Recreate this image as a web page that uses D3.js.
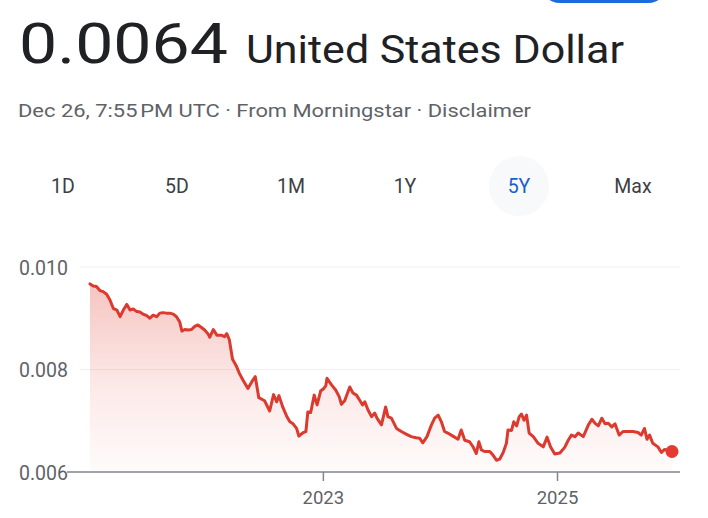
<!DOCTYPE html>
<html>
<head>
<meta charset="utf-8">
<script src="https://cdn.jsdelivr.net/npm/d3@7"></script>
<style>
  html, body { margin: 0; padding: 0; background: #fff; }
  svg { display: block; font-family: Roboto, "Noto Sans", Arial, sans-serif; }
</style>
</head>
<body>
<svg id="chart" width="708" height="518"></svg>
<script>
// ---- Data ----
const dates = [
  "2021-01-04","2021-01-14","2021-01-24","2021-02-04","2021-02-14","2021-02-25","2021-03-07","2021-03-18","2021-03-29","2021-04-08",
  "2021-04-18","2021-04-29","2021-05-09","2021-05-19","2021-05-30","2021-06-09","2021-06-19","2021-06-30","2021-07-10","2021-07-20",
  "2021-07-31","2021-08-10","2021-08-20","2021-08-31","2021-09-10","2021-09-21","2021-10-01","2021-10-11","2021-10-18","2021-10-27",
  "2021-11-06","2021-11-17","2021-11-27","2021-12-07","2021-12-18","2021-12-28","2022-01-08","2022-01-13","2022-01-24","2022-02-04",
  "2022-02-18","2022-02-28","2022-03-07","2022-03-15","2022-03-25","2022-04-05","2022-04-15","2022-04-26","2022-05-12","2022-05-27",
  "2022-06-04","2022-06-15","2022-07-03","2022-07-19","2022-07-31","2022-08-10","2022-08-17","2022-08-28","2022-09-10","2022-09-20",
  "2022-09-30","2022-10-11","2022-10-18","2022-11-01","2022-11-09","2022-11-15","2022-11-24","2022-12-05","2022-12-14","2022-12-25",
  "2023-01-04","2023-01-10","2023-01-14","2023-01-28","2023-02-10","2023-02-21","2023-02-28","2023-03-10","2023-03-26","2023-04-05",
  "2023-04-16","2023-04-26","2023-05-05","2023-05-12","2023-05-22","2023-06-02","2023-06-12","2023-06-19","2023-07-03","2023-07-16",
  "2023-07-23","2023-08-03","2023-08-19","2023-09-03","2023-09-18","2023-10-04","2023-10-19","2023-10-30","2023-11-09","2023-11-22",
  "2023-12-06","2023-12-16","2023-12-27","2024-01-06","2024-01-16","2024-01-26","2024-02-11","2024-02-27","2024-03-08","2024-03-19",
  "2024-04-03","2024-04-14","2024-04-24","2024-05-02","2024-05-10","2024-05-20","2024-06-05","2024-06-15","2024-06-26","2024-07-06",
  "2024-07-17","2024-07-27","2024-08-01","2024-08-12","2024-08-19","2024-08-28","2024-09-05","2024-09-12","2024-09-20","2024-09-28",
  "2024-10-06","2024-10-19","2024-11-03","2024-11-19","2024-12-01","2024-12-12","2024-12-25","2025-01-10","2025-01-25","2025-02-05",
  "2025-02-15","2025-02-26","2025-03-08","2025-03-24","2025-04-09","2025-04-20","2025-04-30","2025-05-10","2025-05-21","2025-05-31",
  "2025-06-10","2025-06-21","2025-07-01","2025-07-14","2025-07-26","2025-08-11","2025-08-26","2025-09-11","2025-09-21","2025-10-01",
  "2025-10-09","2025-10-17","2025-10-27","2025-11-12","2025-11-23","2025-12-03","2025-12-26"
];
const values = [
  0.00967,0.00963,0.00962,0.00954,0.00952,0.00947,0.00936,0.00919,0.00916,0.00903,
  0.00916,0.00927,0.00916,0.00918,0.00913,0.00912,0.00908,0.00905,0.00900,0.00906,
  0.00903,0.00910,0.00911,0.00910,0.00910,0.00908,0.00903,0.00893,0.00875,0.00878,
  0.00877,0.00878,0.00884,0.00887,0.00882,0.00877,0.00869,0.00863,0.00878,0.00867,
  0.00867,0.00864,0.00870,0.00858,0.00820,0.00808,0.00793,0.00780,0.00763,0.00779,
  0.00786,0.00745,0.00739,0.00719,0.00751,0.00737,0.00749,0.00728,0.00709,0.00698,
  0.00694,0.00685,0.00670,0.00677,0.00679,0.00717,0.00716,0.00750,0.00731,0.00758,
  0.00763,0.00768,0.00783,0.00770,0.00760,0.00747,0.00732,0.00739,0.00766,0.00754,
  0.00750,0.00740,0.00731,0.00737,0.00721,0.00708,0.00715,0.00705,0.00692,0.00727,
  0.00708,0.00705,0.00685,0.00679,0.00674,0.00669,0.00667,0.00666,0.00657,0.00669,
  0.00692,0.00705,0.00711,0.00698,0.00679,0.00676,0.00670,0.00664,0.00682,0.00662,
  0.00659,0.00649,0.00636,0.00659,0.00643,0.00640,0.00640,0.00633,0.00623,0.00625,
  0.00638,0.00656,0.00682,0.00681,0.00698,0.00690,0.00708,0.00713,0.00701,0.00711,
  0.00676,0.00669,0.00656,0.00649,0.00668,0.00649,0.00635,0.00637,0.00648,0.00662,
  0.00672,0.00669,0.00676,0.00669,0.00692,0.00703,0.00695,0.00690,0.00705,0.00694,
  0.00695,0.00688,0.00694,0.00672,0.00679,0.00679,0.00679,0.00677,0.00672,0.00685,
  0.00664,0.00672,0.00656,0.00649,0.00638,0.00644,0.00640
];
const yTicks = [0.006, 0.008, 0.010];
const xTickDates = ["2023-01-01", "2025-01-01"];
const xTickLabels = ["2023", "2025"];
const tabs = ["1D", "5D", "1M", "1Y", "5Y", "Max"];
const activeTab = "5Y";
const priceText = "0.0064";
const currencyText = "United States Dollar";
const subtitleText = "Dec 26, 7:55\u202FPM UTC \u00B7 From Morningstar \u00B7 Disclaimer";

// ---- Build ----
const parse = d3.timeParse("%Y-%m-%d");
const data = dates.map((d, i) => ({ date: parse(d), value: values[i] }));

const svg = d3.select("#chart");

// top blue button (cut off)
svg.append("rect")
  .attr("x", 540).attr("y", -40).attr("width", 128).attr("height", 43)
  .attr("rx", 20).attr("fill", "#1a6ae0");

// header
svg.append("text")
  .attr("x", 19).attr("y", 63)
  .attr("font-size", 56).attr("fill", "#202124")
  .attr("textLength", 209).attr("lengthAdjust", "spacingAndGlyphs")
  .text(priceText);
svg.append("text")
  .attr("x", 246).attr("y", 63)
  .attr("font-size", 38).attr("fill", "#202124")
  .attr("textLength", 378).attr("lengthAdjust", "spacingAndGlyphs")
  .text(currencyText);
svg.append("text")
  .attr("x", 18).attr("y", 117)
  .attr("font-size", 19).attr("fill", "#5f6368")
  .attr("textLength", 513).attr("lengthAdjust", "spacingAndGlyphs")
  .text(subtitleText);

// tabs
const tabX = d3.scalePoint().domain(tabs).range([63, 633]);
svg.append("circle")
  .attr("cx", tabX(activeTab)).attr("cy", 186).attr("r", 30)
  .attr("fill", "#f8f9fa");
svg.append("g").selectAll("text").data(tabs).join("text")
  .attr("x", d => tabX(d)).attr("y", 193)
  .attr("text-anchor", "middle")
  .attr("font-size", 19.5)
  .attr("fill", d => d === activeTab ? "#1a5fd0" : "#3c4043")
  .text(d => d);

// scales
const x = d3.scaleTime().domain(d3.extent(data, d => d.date)).range([90, 672]);
const y = d3.scaleLinear().domain([0.006, 0.010]).range([472, 267]);

// gradient
const defs = svg.append("defs");
const grad = defs.append("linearGradient")
  .attr("id", "areaGrad").attr("gradientUnits", "userSpaceOnUse")
  .attr("x1", 0).attr("x2", 0).attr("y1", y(0.0098)).attr("y2", y(0.006));
grad.append("stop").attr("offset", 0).attr("stop-color", "#e0473a").attr("stop-opacity", 0.33);
grad.append("stop").attr("offset", 0.55).attr("stop-color", "#e0473a").attr("stop-opacity", 0.12);
grad.append("stop").attr("offset", 1).attr("stop-color", "#e0473a").attr("stop-opacity", 0.02);

// gridlines
svg.append("g").selectAll("line").data(yTicks.filter(t => t !== 0.006)).join("line")
  .attr("x1", 80).attr("x2", 680)
  .attr("y1", d => y(d)).attr("y2", d => y(d))
  .attr("stroke", "#f0f0f0").attr("stroke-width", 1);

// area
svg.append("path").datum(data)
  .attr("fill", "url(#areaGrad)")
  .attr("d", d3.area().x(d => x(d.date)).y0(y(0.006)).y1(d => y(d.value)));

// y axis labels
const yAxis = d3.axisLeft(y).tickValues(yTicks).tickFormat(d3.format(".3f")).tickSize(0).tickPadding(0);
const gy = svg.append("g").attr("transform", "translate(68,0)").call(yAxis);
gy.select(".domain").remove();
gy.selectAll("text").attr("font-size", 19.5).attr("fill", "#5f6368")
  .attr("font-family", "Roboto, Arial, sans-serif").attr("dy", "0.36em");

// baseline
svg.append("line")
  .attr("x1", 67).attr("x2", 680).attr("y1", y(0.006)).attr("y2", y(0.006))
  .attr("stroke", "#80868b").attr("stroke-width", 1.5);

// x axis
const xAxis = d3.axisBottom(x)
  .tickValues(xTickDates.map(parse))
  .tickFormat((d, i) => xTickLabels[i])
  .tickSize(9).tickPadding(10);
const gx = svg.append("g").attr("transform", `translate(0,${y(0.006)})`).call(xAxis);
gx.select(".domain").remove();
gx.selectAll(".tick line").attr("stroke", "#80868b").attr("stroke-width", 1.5);
gx.selectAll("text").attr("font-size", 18.5).attr("fill", "#5f6368")
  .attr("font-family", "Roboto, Arial, sans-serif");

// line
svg.append("path").datum(data)
  .attr("fill", "none")
  .attr("stroke", "#dc3a2e").attr("stroke-width", 3)
  .attr("stroke-linejoin", "round").attr("stroke-linecap", "round")
  .attr("d", d3.line().x(d => x(d.date)).y(d => y(d.value)));

// end dot
const last = data[data.length - 1];
svg.append("circle")
  .attr("cx", x(last.date)).attr("cy", y(last.value)).attr("r", 6.5)
  .attr("fill", "#e53a30");
</script>
</body>
</html>
